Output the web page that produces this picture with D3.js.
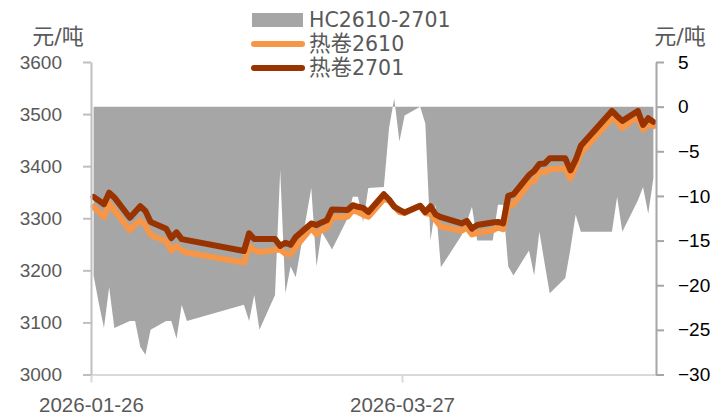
<!DOCTYPE html>
<html lang="zh">

<head>
    <meta charset="UTF-8">
    <script src="https://d3js.org/d3.v7.min.js"></script>
    <style>
        body {
            margin: 0;
            background: #ffffff;
        }

        svg {
            display: block;
            font-family: "DejaVu Sans", "Noto Sans CJK SC", sans-serif;
        }

        .axis-left text {
            fill: #595959;
            font-size: 19px;
        }

        .axis-right text {
            fill: #000000;
            font-size: 19px;
        }

        .axis-bottom text {
            fill: #595959;
            font-size: 20.5px;
        }
    </style>
</head>

<body>
    <script>
        // trading days
        const dates = [
            "2026-01-26", "2026-01-27", "2026-01-28", "2026-01-29", "2026-01-30",
            "2026-02-02", "2026-02-03", "2026-02-04", "2026-02-05", "2026-02-06",
            "2026-02-09", "2026-02-10", "2026-02-11", "2026-02-12", "2026-02-13",
            "2026-02-24", "2026-02-25", "2026-02-26", "2026-02-27",
            "2026-03-02", "2026-03-03", "2026-03-04", "2026-03-05", "2026-03-06",
            "2026-03-09", "2026-03-10", "2026-03-11", "2026-03-12", "2026-03-13",
            "2026-03-16", "2026-03-17", "2026-03-18", "2026-03-19", "2026-03-20",
            "2026-03-23", "2026-03-24", "2026-03-25", "2026-03-26", "2026-03-27",
            "2026-03-30", "2026-03-31", "2026-04-01", "2026-04-02", "2026-04-03",
            "2026-04-07", "2026-04-08", "2026-04-09", "2026-04-10",
            "2026-04-13", "2026-04-14", "2026-04-15", "2026-04-16", "2026-04-17",
            "2026-04-20", "2026-04-21", "2026-04-22", "2026-04-23", "2026-04-24",
            "2026-04-27", "2026-04-28", "2026-04-29", "2026-04-30",
            "2026-05-06", "2026-05-07", "2026-05-08",
            "2026-05-11", "2026-05-12", "2026-05-13", "2026-05-14"
        ];

        // 热卷2610 (元/吨)
        const hc2610 = [
            3322, 3312, 3302, 3329, 3315,
            3277, 3288, 3296, 3286, 3268,
            3256, 3238, 3247, 3238, 3234,
            3215, 3247, 3239, 3235,
            3239, 3240, 3232, 3231, 3245,
            3281, 3269, 3278, 3281, 3301,
            3303, 3315, 3312, 3307, 3303,
            3337, 3334, 3323, 3312, 3310,
            3324, 3310, 3308, 3296, 3284,
            3276, 3282, 3269, 3272,
            3277, 3282, 3279, 3325, 3327,
            3367, 3372, 3390, 3388, 3394,
            3396, 3376, 3400, 3425,
            3492, 3486, 3473,
            3495, 3470, 3480, 3477
        ];

        // 热卷2701 (元/吨)
        const hc2701 = [
            3341, 3334, 3327, 3349, 3340,
            3301, 3312, 3323, 3314, 3293,
            3280, 3262, 3273, 3260, 3258,
            3237, 3271, 3260, 3260,
            3260, 3247, 3253, 3249, 3264,
            3290, 3287, 3292, 3296, 3317,
            3316, 3325, 3322, 3320, 3312,
            3346, 3336, 3322, 3316, 3311,
            3324, 3312, 3323, 3307, 3302,
            3290, 3295, 3280, 3287,
            3292, 3293, 3290, 3343, 3346,
            3383, 3391, 3404, 3405, 3415,
            3415, 3392, 3412, 3439,
            3506, 3496, 3487,
            3506, 3479, 3492, 3485
        ];

        // HC2610-2701 (元/吨, right axis)
        const spread = [
            -18.9, -22, -24.8, -20.2, -24.8,
            -24, -24, -26.9, -27.8, -25,
            -24, -24, -26, -22.2, -24,
            -22.2, -24, -21.1, -25,
            -21.1, -7.1, -20.9, -17.9, -19.1,
            -9.1, -17.9, -14, -15, -16,
            -12.5, -10.1, -10.1, -12.9, -9.1,
            -9, -2.4, 0.9, -3.9, -1,
            0, -1.9, -15, -11, -18,
            -14.4, -12.9, -11.2, -15,
            -15, -11, -11, -17.9, -18.9,
            -16.1, -18.9, -14, -17.5, -20.9,
            -19.2, -15.9, -12.1, -14,
            -14, -10.1, -14,
            -10.5, -9, -12, -8
        ];

        const leftTicks = [3000, 3100, 3200, 3300, 3400, 3500, 3600];
        const rightTicks = [-30, -25, -20, -15, -10, -5, 0, 5];
        const xTickLabels = ["2026-01-26", "2026-03-27"];
        const seriesNames = ["HC2610-2701", "热卷2610", "热卷2701"];

        const width = 727, height = 418;
        const parse = d3.utcParse("%Y-%m-%d");

        const rows = dates.map((d, i) => ({
            date: d3.utcHour.offset(parse(d), 12),
            a: hc2610[i],
            b: hc2701[i],
            s: spread[i]
        }));

        const x = d3.scaleUtc()
            .domain([parse("2026-01-26"), parse("2026-05-15")])
            .range([91, 656]);
        const yL = d3.scaleLinear().domain([3000, 3600]).range([374.5, 62]);
        const yR = d3.scaleLinear().domain([-30, 5]).range([374.5, 62]);

        const svg = d3.select("body").append("svg")
            .attr("width", width)
            .attr("height", height);

        // spread area, filled from 0
        const area = d3.area()
            .x(d => x(d.date))
            .y0(yR(0))
            .y1(d => yR(d.s));

        svg.append("path")
            .datum(rows)
            .attr("d", area)
            .attr("fill", "#a6a6a6");

        const line2610 = d3.line().x(d => x(d.date)).y(d => yL(d.a));
        const line2701 = d3.line().x(d => x(d.date)).y(d => yL(d.b));

        svg.append("path")
            .datum(rows)
            .attr("d", line2610)
            .attr("fill", "none")
            .attr("stroke", "#f79646")
            .attr("stroke-width", 6)
            .attr("stroke-linejoin", "round")
            .attr("stroke-linecap", "round");

        svg.append("path")
            .datum(rows)
            .attr("d", line2701)
            .attr("fill", "none")
            .attr("stroke", "#993300")
            .attr("stroke-width", 6)
            .attr("stroke-linejoin", "round")
            .attr("stroke-linecap", "round");

        // axes
        const gx = svg.append("g")
            .attr("class", "axis-bottom")
            .attr("transform", "translate(0,374.5)")
            .call(d3.axisBottom(x)
                .tickValues(xTickLabels.map(parse))
                .tickFormat(d3.utcFormat("%Y-%m-%d"))
                .tickSize(8)
                .tickSizeOuter(0)
                .tickPadding(15));
        gx.select(".domain").attr("stroke", "#d9d9d9").attr("stroke-width", 2);
        gx.selectAll(".tick line").attr("stroke", "#d9d9d9").attr("stroke-width", 2);

        const gl = svg.append("g")
            .attr("class", "axis-left")
            .attr("transform", "translate(91,0)")
            .call(d3.axisLeft(yL)
                .tickValues(leftTicks)
                .tickFormat(d3.format("d"))
                .tickSize(8)
                .tickSizeOuter(0)
                .tickPadding(21));
        gl.select(".domain").attr("stroke", "#bfbfbf").attr("stroke-width", 2);
        gl.selectAll(".tick line").attr("stroke", "#bfbfbf").attr("stroke-width", 2);

        const gr = svg.append("g")
            .attr("class", "axis-right")
            .attr("transform", "translate(656,0)")
            .call(d3.axisRight(yR)
                .tickValues(rightTicks)
                .tickSize(8)
                .tickSizeOuter(0)
                .tickPadding(14));
        gr.select(".domain").attr("stroke", "#a6a6a6").attr("stroke-width", 2);
        gr.selectAll(".tick line").attr("stroke", "#a6a6a6").attr("stroke-width", 2);

        // units
        svg.append("text")
            .attr("x", 58).attr("y", 44)
            .attr("text-anchor", "middle")
            .attr("fill", "#595959")
            .attr("font-size", 22)
            .text("元/吨");
        svg.append("text")
            .attr("x", 680).attr("y", 44)
            .attr("text-anchor", "middle")
            .attr("fill", "#595959")
            .attr("font-size", 22)
            .text("元/吨");

        // legend
        const legend = svg.append("g");
        legend.append("rect")
            .attr("x", 252).attr("y", 13)
            .attr("width", 51).attr("height", 14)
            .attr("fill", "#a6a6a6");
        legend.append("line")
            .attr("x1", 254).attr("x2", 302)
            .attr("y1", 44).attr("y2", 44)
            .attr("stroke", "#f79646").attr("stroke-width", 6)
            .attr("stroke-linecap", "round");
        legend.append("line")
            .attr("x1", 254).attr("x2", 302)
            .attr("y1", 68).attr("y2", 68)
            .attr("stroke", "#993300").attr("stroke-width", 6)
            .attr("stroke-linecap", "round");

        const legendY = [27, 51, 75];
        seriesNames.forEach((name, i) => {
            const t = legend.append("text")
                .attr("x", 309).attr("y", legendY[i])
                .attr("fill", "#595959")
                .attr("font-size", 19);
            const m = name.match(/^([^\x00-\x7f]*)(.*)$/);
            if (m[1]) t.append("tspan").attr("font-size", 21.5).text(m[1]);
            t.append("tspan").attr("font-size", 20.5).text(m[2]);
        });
    </script>
</body>

</html>
